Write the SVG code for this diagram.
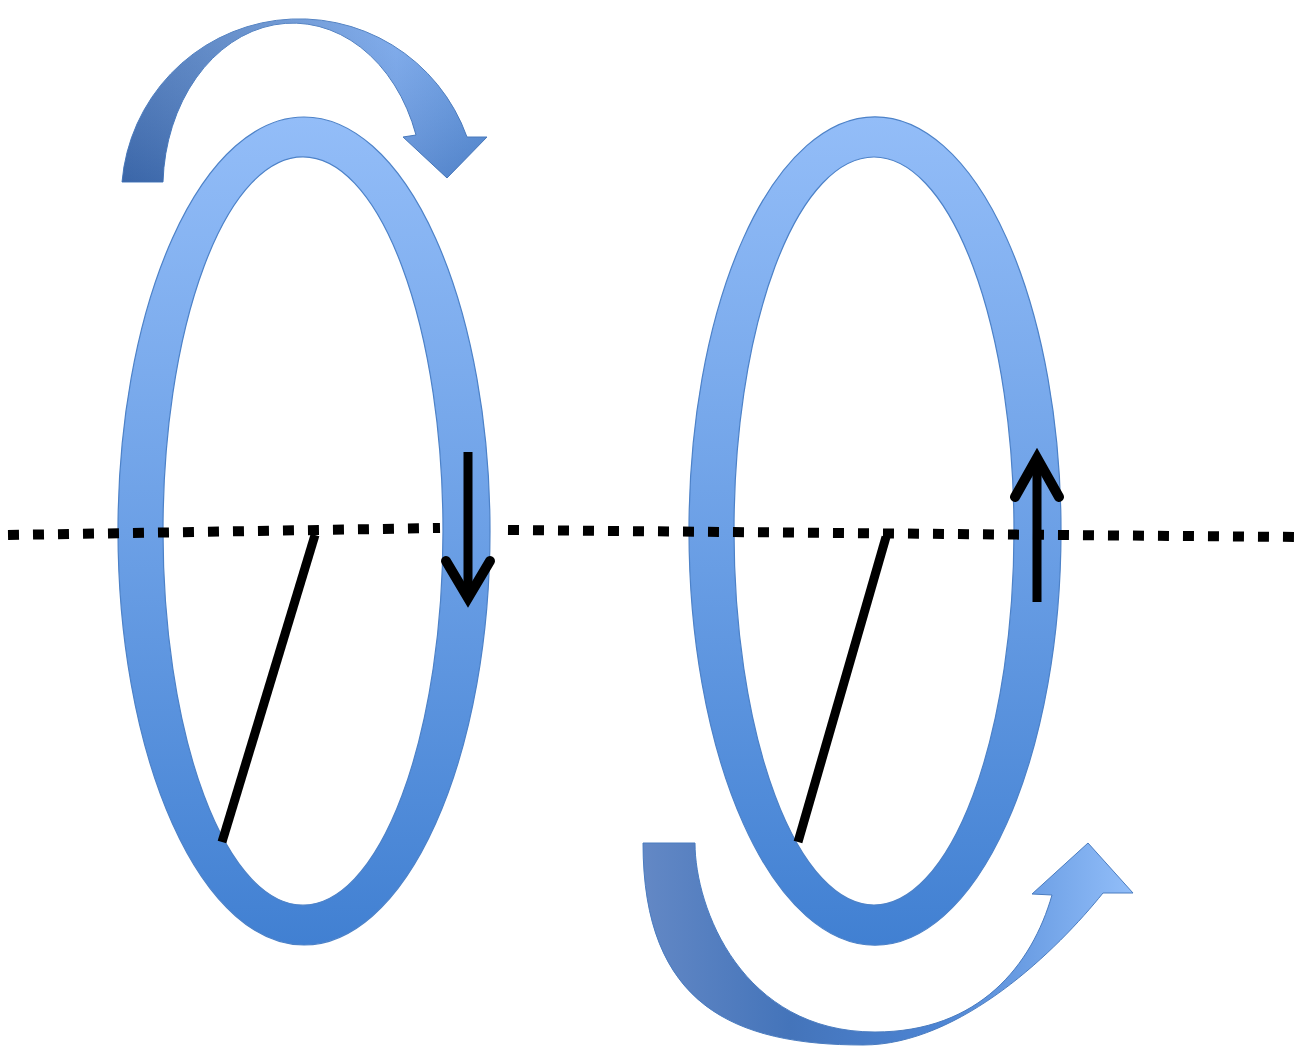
<svg xmlns="http://www.w3.org/2000/svg" width="1304" height="1047" viewBox="0 0 1304 1047">
<defs>
<linearGradient id="ringG" x1="0" y1="0" x2="0" y2="1">
<stop offset="0" stop-color="#93bdf8"/>
<stop offset="0.5" stop-color="#6ca0e6"/>
<stop offset="1" stop-color="#4180d2"/>
</linearGradient>
<linearGradient id="topG" gradientUnits="userSpaceOnUse" x1="122" y1="0" x2="487" y2="0">
<stop offset="0" stop-color="#4573b8"/>
<stop offset="0.4" stop-color="#5d8bcd"/>
<stop offset="0.75" stop-color="#74a5ec"/>
<stop offset="1" stop-color="#5c93de"/>
</linearGradient>
<linearGradient id="topShade" gradientUnits="userSpaceOnUse" x1="0" y1="10" x2="0" y2="182">
<stop offset="0" stop-color="#ffffff" stop-opacity="0.12"/>
<stop offset="1" stop-color="#0a2a60" stop-opacity="0.18"/>
</linearGradient>
<linearGradient id="botG" gradientUnits="userSpaceOnUse" x1="643" y1="0" x2="1133" y2="0">
<stop offset="0" stop-color="#6388c5"/>
<stop offset="0.3" stop-color="#4474ba"/>
<stop offset="0.6" stop-color="#4c84d3"/>
<stop offset="1" stop-color="#92bef9"/>
</linearGradient>
<style>
.ring{fill:url(#ringG);fill-rule:evenodd;stroke:#4d82c8;stroke-width:1.2}
.curv{stroke:#4a7cc0;stroke-width:1}
.blk{fill:none;stroke:#000;stroke-width:9;stroke-linecap:butt}
.head{fill:none;stroke:#000;stroke-width:10;stroke-linecap:round;stroke-linejoin:miter}
.dot{fill:none;stroke:#000;stroke-width:10;stroke-dasharray:11 14}
</style>
</defs>
<g id="arrow-top">
<path class="curv" fill="url(#topG)" d="M122,182 A178,178 0 0,1 467,137 L487,137 L447,178 L403,137 L416,135 A130,165 0 0,0 163,182 Z"/>
<path fill="url(#topShade)" d="M122,182 A178,178 0 0,1 467,137 L487,137 L447,178 L403,137 L416,135 A130,165 0 0,0 163,182 Z"/>
</g>
<g id="arrow-bottom">
<path class="curv" fill="url(#botG)" d="M643,843 C643,1006 735,1045 863,1045 C961,1045 1058,949 1103,893 L1133,893 L1088,843 L1032,894 L1052,895 C1032,965 979,1032 875,1032 C742,1032 695,908 695,843 Z"/>
</g>
<g id="ring-left">
<path class="ring" d="M118,531 a186,414 0 1,0 372,0 a186,414 0 1,0 -372,0 Z M163,531 a140,374 0 1,0 280,0 a140,374 0 1,0 -280,0 Z"/>
</g>
<g id="ring-right">
<path class="ring" d="M689,531 a186,414 0 1,0 372,0 a186,414 0 1,0 -372,0 Z M734,531 a140,374 0 1,0 280,0 a140,374 0 1,0 -280,0 Z"/>
</g>
<g id="connectors">
<polyline class="dot" points="8,535 440,528"/>
<polyline class="dot" points="508,530 1060,535 1300,537"/>
<line class="blk" x1="315" y1="535" x2="222" y2="842"/>
<line class="blk" x1="886" y1="537" x2="798" y2="842"/>
<path class="blk" stroke-width="10" d="M468,452 L468,596"/>
<path class="head" d="M446,561 L468,598 L490,561"/>
<path class="blk" stroke-width="10" d="M1037,602 L1037,460"/>
<path class="head" d="M1015,497 L1037,458 L1059,497"/>
</g>
</svg>
